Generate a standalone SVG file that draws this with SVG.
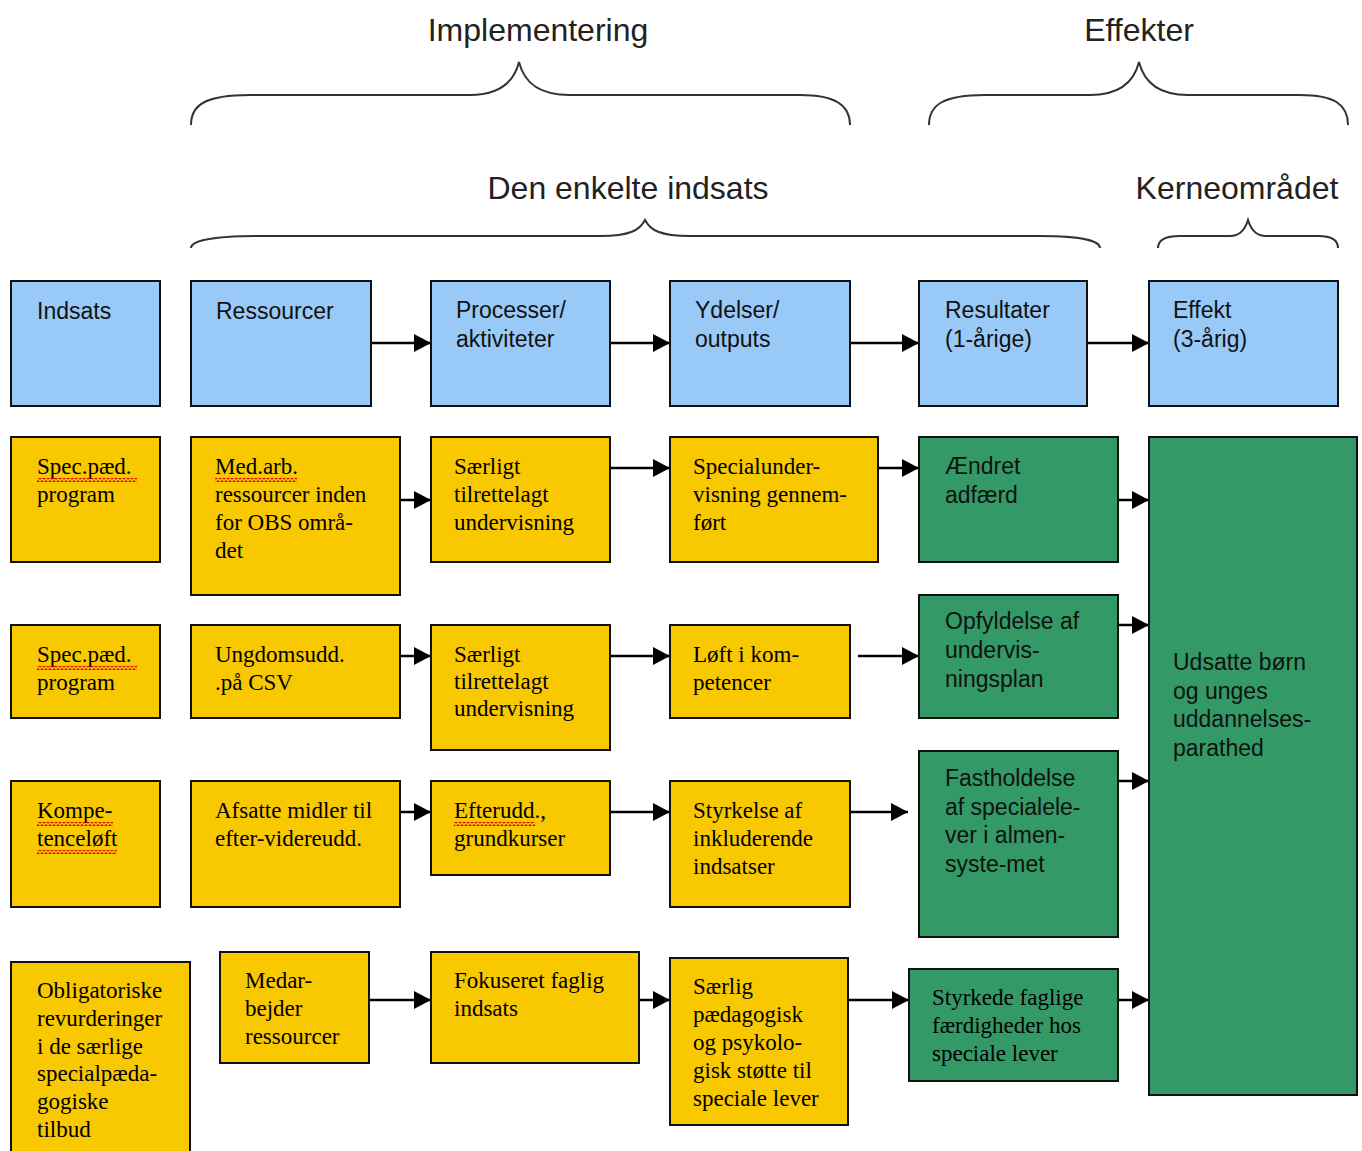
<svg xmlns="http://www.w3.org/2000/svg" width="1362" height="1151" viewBox="0 0 1362 1151">
<style>
.blue{fill:#99c9f7;stroke:#111;stroke-width:2}
.yel{fill:#f8c800;stroke:#111;stroke-width:2}
.grn{fill:#339966;stroke:#111;stroke-width:2}
.sans{font-family:"Liberation Sans",Arial,sans-serif;font-size:23px;fill:#111}
.serif{font-family:"Liberation Serif","Times New Roman",serif;font-size:23px;fill:#000}
.head{font-family:"Liberation Sans",Arial,sans-serif;font-size:32px;fill:#222}
.brace{fill:none;stroke:#333;stroke-width:2}
.con{stroke:#000;stroke-width:2.5;fill:none;marker-end:url(#ah)}
</style>
<defs>
<marker id="ah" markerUnits="userSpaceOnUse" markerWidth="18" markerHeight="18" refX="17" refY="9" orient="auto">
<path d="M0,0 L17,9 L0,18 z" fill="#000"/>
</marker>
<pattern id="squig" patternUnits="userSpaceOnUse" width="4" height="4">
<path d="M0,3.2 L2,0.8 L4,3.2" fill="none" stroke="#e00000" stroke-width="1.2"/>
</pattern>
</defs>
<rect width="1362" height="1151" fill="#fff"/>

<g id="headers">
<text class="head" x="538" y="41" text-anchor="middle">Implementering</text>
<text class="head" x="1139" y="41" text-anchor="middle">Effekter</text>
<text class="head" x="628" y="199" text-anchor="middle">Den enkelte indsats</text>
<text class="head" x="1237" y="199" text-anchor="middle">Kerneområdet</text>
<path class="brace" d="M191,125 C191,105 205,95 250,95 L470,95 C500,95 514,82 519,62 C524,82 538,95 570,95 L800,95 C835,95 850,105 850,125"/>
<path class="brace" d="M929,125 C929,105 943,95 985,95 L1090,95 C1120,95 1134,82 1139,62 C1144,82 1158,95 1188,95 L1300,95 C1335,95 1348,105 1348,125"/>
<path class="brace" d="M191,248 C191,242 205,236 260,236 L600,236 C630,236 640,230 645,220 C650,230 660,236 690,236 L1040,236 C1085,236 1100,242 1100,248"/>
<path class="brace" d="M1158,248 C1158,241 1163,236 1180,236 L1230,236 C1240,236 1245,230 1248,220 C1251,230 1256,236 1266,236 L1318,236 C1333,236 1338,241 1338,248"/>
</g>

<g id="connectors">
<line class="con" x1="371" y1="343" x2="431" y2="343"/>
<line class="con" x1="610" y1="343" x2="670" y2="343"/>
<line class="con" x1="850" y1="343" x2="919" y2="343"/>
<line class="con" x1="1087" y1="343" x2="1149" y2="343"/>
<line class="con" x1="400" y1="500" x2="431" y2="500"/>
<line class="con" x1="610" y1="468" x2="670" y2="468"/>
<line class="con" x1="878" y1="468" x2="919" y2="468"/>
<line class="con" x1="1118" y1="500" x2="1149" y2="500"/>
<line class="con" x1="400" y1="656" x2="431" y2="656"/>
<line class="con" x1="610" y1="656" x2="670" y2="656"/>
<line class="con" x1="858" y1="656" x2="919" y2="656"/>
<line class="con" x1="1118" y1="625" x2="1149" y2="625"/>
<line class="con" x1="400" y1="812" x2="431" y2="812"/>
<line class="con" x1="610" y1="812" x2="670" y2="812"/>
<line class="con" x1="850" y1="812" x2="908" y2="812"/>
<line class="con" x1="1118" y1="781" x2="1149" y2="781"/>
<line class="con" x1="369" y1="1000" x2="431" y2="1000"/>
<line class="con" x1="639" y1="1000" x2="670" y2="1000"/>
<line class="con" x1="848" y1="1000" x2="909" y2="1000"/>
<line class="con" x1="1118" y1="1000" x2="1149" y2="1000"/>
</g>

<g id="n-indsats"><rect class="blue" x="11" y="281" width="149" height="125"/><text class="sans" x="37" y="319">Indsats</text></g>
<g id="n-ressourcer"><rect class="blue" x="191" y="281" width="180" height="125"/><text class="sans" x="216" y="319">Ressourcer</text></g>
<g id="n-processer"><rect class="blue" x="431" y="281" width="179" height="125"/><text class="sans" x="456" y="318">Processer/<tspan x="456" dy="29">aktiviteter</tspan></text></g>
<g id="n-ydelser"><rect class="blue" x="670" y="281" width="180" height="125"/><text class="sans" x="695" y="318">Ydelser/<tspan x="695" dy="29">outputs</tspan></text></g>
<g id="n-resultater"><rect class="blue" x="919" y="281" width="168" height="125"/><text class="sans" x="945" y="318">Resultater<tspan x="945" dy="29">(1-årige)</tspan></text></g>
<g id="n-effekt"><rect class="blue" x="1149" y="281" width="189" height="125"/><text class="sans" x="1173" y="318">Effekt<tspan x="1173" dy="29">(3-årig)</tspan></text></g>

<g id="n-big"><rect class="grn" x="1149" y="437" width="208" height="658"/><text class="sans" x="1173" y="670">Udsatte børn<tspan x="1173" dy="28.5">og unges</tspan><tspan x="1173" dy="28.5">uddannelses-</tspan><tspan x="1173" dy="28.5">parathed</tspan></text></g>

<g id="n-r1c1"><rect class="yel" x="11" y="437" width="149" height="125"/><text class="serif" x="37" y="474">Spec.pæd.<tspan x="37" dy="28">program</tspan></text><rect x="37" y="478" width="100" height="4" fill="url(#squig)"/></g>
<g id="n-r1c2"><rect class="yel" x="191" y="437" width="209" height="158"/><text class="serif" x="215" y="474">Med.arb.<tspan x="215" dy="28">ressourcer inden</tspan><tspan x="215" dy="28">for OBS områ-</tspan><tspan x="215" dy="28">det</tspan></text><rect x="215" y="478" width="82" height="4" fill="url(#squig)"/></g>
<g id="n-r1c3"><rect class="yel" x="431" y="437" width="179" height="125"/><text class="serif" x="454" y="474">Særligt<tspan x="454" dy="28">tilrettelagt</tspan><tspan x="454" dy="28">undervisning</tspan></text></g>
<g id="n-r1c4"><rect class="yel" x="670" y="437" width="208" height="125"/><text class="serif" x="693" y="474">Specialunder-<tspan x="693" dy="28">visning gennem-</tspan><tspan x="693" dy="28">ført</tspan></text></g>
<g id="n-r1c5"><rect class="grn" x="919" y="437" width="199" height="125"/><text class="sans" x="945" y="474">Ændret<tspan x="945" dy="29">adfærd</tspan></text></g>

<g id="n-r2c1"><rect class="yel" x="11" y="625" width="149" height="93"/><text class="serif" x="37" y="662">Spec.pæd.<tspan x="37" dy="28">program</tspan></text><rect x="37" y="666" width="100" height="4" fill="url(#squig)"/></g>
<g id="n-r2c2"><rect class="yel" x="191" y="625" width="209" height="93"/><text class="serif" x="215" y="662">Ungdomsudd.<tspan x="215" dy="28">.på CSV</tspan></text></g>
<g id="n-r2c3"><rect class="yel" x="431" y="625" width="179" height="125"/><text class="serif" x="454" y="662">Særligt<tspan x="454" dy="27">tilrettelagt</tspan><tspan x="454" dy="27">undervisning</tspan></text></g>
<g id="n-r2c4"><rect class="yel" x="670" y="625" width="180" height="93"/><text class="serif" x="693" y="662">Løft i kom-<tspan x="693" dy="28">petencer</tspan></text></g>
<g id="n-r2c5"><rect class="grn" x="919" y="595" width="199" height="123"/><text class="sans" x="945" y="629">Opfyldelse af<tspan x="945" dy="29">undervis-</tspan><tspan x="945" dy="29">ningsplan</tspan></text></g>

<g id="n-r3c1"><rect class="yel" x="11" y="781" width="149" height="126"/><text class="serif" x="37" y="818">Kompe-<tspan x="37" dy="28">tenceløft</tspan></text><rect x="37" y="822" width="76" height="4" fill="url(#squig)"/><rect x="37" y="850" width="80" height="4" fill="url(#squig)"/></g>
<g id="n-r3c2"><rect class="yel" x="191" y="781" width="209" height="126"/><text class="serif" x="215" y="818">Afsatte midler til<tspan x="215" dy="28">efter-videreudd.</tspan></text></g>
<g id="n-r3c3"><rect class="yel" x="431" y="781" width="179" height="94"/><text class="serif" x="454" y="818">Efterudd.,<tspan x="454" dy="28">grundkurser</tspan></text><rect x="454" y="822" width="81" height="4" fill="url(#squig)"/></g>
<g id="n-r3c4"><rect class="yel" x="670" y="781" width="180" height="126"/><text class="serif" x="693" y="818">Styrkelse af<tspan x="693" dy="28">inkluderende</tspan><tspan x="693" dy="28">indsatser</tspan></text></g>
<g id="n-r3c5"><rect class="grn" x="919" y="751" width="199" height="186"/><text class="sans" x="945" y="786">Fastholdelse<tspan x="945" dy="28.7">af specialele-</tspan><tspan x="945" dy="28.7">ver i almen-</tspan><tspan x="945" dy="28.7">syste-met</tspan></text></g>

<g id="n-r4c1"><rect class="yel" x="11" y="962" width="179" height="195"/><text class="serif" x="37" y="998">Obligatoriske<tspan x="37" dy="27.8">revurderinger</tspan><tspan x="37" dy="27.8">i de særlige</tspan><tspan x="37" dy="27.8">specialpæda-</tspan><tspan x="37" dy="27.8">gogiske</tspan><tspan x="37" dy="27.8">tilbud</tspan></text></g>
<g id="n-r4c2"><rect class="yel" x="220" y="952" width="149" height="111"/><text class="serif" x="245" y="988">Medar-<tspan x="245" dy="28">bejder</tspan><tspan x="245" dy="28">ressourcer</tspan></text></g>
<g id="n-r4c3"><rect class="yel" x="431" y="952" width="208" height="111"/><text class="serif" x="454" y="988">Fokuseret faglig<tspan x="454" dy="28">indsats</tspan></text></g>
<g id="n-r4c4"><rect class="yel" x="670" y="958" width="178" height="167"/><text class="serif" x="693" y="994">Særlig<tspan x="693" dy="28">pædagogisk</tspan><tspan x="693" dy="28">og psykolo-</tspan><tspan x="693" dy="28">gisk støtte til</tspan><tspan x="693" dy="28">speciale lever</tspan></text></g>
<g id="n-r4c5"><rect class="grn" x="909" y="969" width="209" height="112"/><text class="serif" x="932" y="1005">Styrkede faglige<tspan x="932" dy="28">færdigheder hos</tspan><tspan x="932" dy="28">speciale lever</tspan></text></g>
</svg>
